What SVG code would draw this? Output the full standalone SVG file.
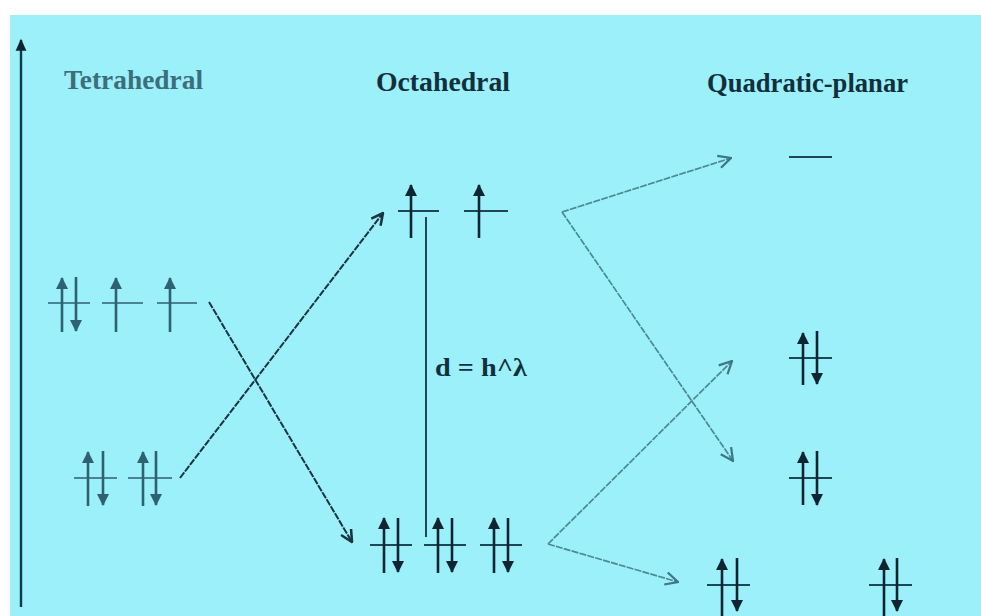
<svg xmlns="http://www.w3.org/2000/svg" width="981" height="616" viewBox="0 0 981 616">
<style>
.ttl{font-family:"Liberation Serif","Times New Roman",serif;font-weight:bold;font-size:27px}
.lvl{stroke:#1e4654;stroke-width:2}
.lvlT{stroke:#4a8494;stroke-width:2}
.e{stroke:#0f2632;stroke-width:2.6;fill:none}
.eT{stroke:#2f6270;stroke-width:2.6;fill:none}
.c1{stroke:#1a3442;stroke-width:2;fill:none;stroke-dasharray:7 1.2}
.c2{stroke:#4d8896;stroke-width:1.7;fill:none;stroke-dasharray:7 1.2}
</style>
<defs>
<marker id="h" viewBox="0 0 12 12" refX="11" refY="6" markerWidth="13" markerHeight="12" orient="auto" markerUnits="userSpaceOnUse">
<path d="M0,0 L12,6 L0,12 Z" fill="#0f2632"/>
</marker>
<marker id="hT" viewBox="0 0 12 12" refX="11" refY="6" markerWidth="13" markerHeight="12" orient="auto" markerUnits="userSpaceOnUse">
<path d="M0,0 L12,6 L0,12 Z" fill="#2f6270"/>
</marker>
<marker id="ax" viewBox="0 0 10 10" refX="9" refY="5" markerWidth="14" markerHeight="12" orient="auto" markerUnits="userSpaceOnUse">
<path d="M0,0.5 L10,5 L0,9.5 Z" fill="#0f2632"/>
</marker>
<marker id="o1" viewBox="0 0 12 12" refX="11" refY="6" markerWidth="14" markerHeight="14" orient="auto" markerUnits="userSpaceOnUse">
<path d="M1,1 L11,6 L1,11" fill="none" stroke="#1a3442" stroke-width="2.2"/>
</marker>
<marker id="o2" viewBox="0 0 12 12" refX="11" refY="6" markerWidth="15" markerHeight="15" orient="auto" markerUnits="userSpaceOnUse">
<path d="M1,1 L11,6 L1,11" fill="none" stroke="#3d7684" stroke-width="1.8"/>
</marker>
</defs>
<rect x="0" y="0" width="981" height="616" fill="#ffffff"/>
<rect x="10" y="15" width="971" height="601" fill="#9cf0fa"/>

<g id="axis">
<line x1="21" y1="607" x2="21" y2="40" stroke="#0f3a44" stroke-width="2.4" marker-end="url(#ax)"/>
</g>

<g id="titles">
<text class="ttl" x="64" y="89" fill="#3c6e7c" textLength="139" lengthAdjust="spacingAndGlyphs">Tetrahedral</text>
<text class="ttl" x="376" y="91" fill="#12303c" textLength="134" lengthAdjust="spacingAndGlyphs">Octahedral</text>
<text class="ttl" x="707" y="92" fill="#12303c" textLength="201" lengthAdjust="spacingAndGlyphs">Quadratic-planar</text>
</g>

<g id="tetra-upper">
<line class="lvlT" x1="48" y1="303" x2="90" y2="303"/>
<line class="lvlT" x1="102" y1="303" x2="143" y2="303"/>
<line class="lvlT" x1="157" y1="303" x2="197" y2="303"/>
<line class="eT" x1="62" y1="332" x2="62" y2="278" marker-end="url(#hT)"/>
<line class="eT" x1="76" y1="277" x2="76" y2="331" marker-end="url(#hT)"/>
<line class="eT" x1="116" y1="332" x2="116" y2="278" marker-end="url(#hT)"/>
<line class="eT" x1="170" y1="332" x2="170" y2="278" marker-end="url(#hT)"/>
</g>

<g id="tetra-lower">
<line class="lvlT" x1="74" y1="478" x2="117" y2="478"/>
<line class="lvlT" x1="128" y1="478" x2="172" y2="478"/>
<line class="eT" x1="88" y1="506" x2="88" y2="452" marker-end="url(#hT)"/>
<line class="eT" x1="103" y1="451" x2="103" y2="505" marker-end="url(#hT)"/>
<line class="eT" x1="143" y1="506" x2="143" y2="452" marker-end="url(#hT)"/>
<line class="eT" x1="156" y1="451" x2="156" y2="505" marker-end="url(#hT)"/>
</g>

<g id="octa-upper">
<line class="lvl" x1="398" y1="211" x2="439" y2="211"/>
<line class="lvl" x1="464" y1="211" x2="508" y2="211"/>
<line class="e" x1="411" y1="238" x2="411" y2="185" marker-end="url(#h)"/>
<line class="e" x1="479" y1="238" x2="479" y2="185" marker-end="url(#h)"/>
</g>

<g id="octa-lower">
<line class="lvl" x1="370" y1="545" x2="412" y2="545"/>
<line class="lvl" x1="424" y1="545" x2="466" y2="545"/>
<line class="lvl" x1="480" y1="545" x2="522" y2="545"/>
<line class="e" x1="384" y1="573" x2="384" y2="518" marker-end="url(#h)"/>
<line class="e" x1="398" y1="518" x2="398" y2="572" marker-end="url(#h)"/>
<line class="e" x1="438" y1="573" x2="438" y2="518" marker-end="url(#h)"/>
<line class="e" x1="452" y1="518" x2="452" y2="572" marker-end="url(#h)"/>
<line class="e" x1="494" y1="573" x2="494" y2="518" marker-end="url(#h)"/>
<line class="e" x1="508" y1="518" x2="508" y2="572" marker-end="url(#h)"/>
</g>

<g id="splitting">
<line x1="426" y1="217" x2="426" y2="537" stroke="#1e4654" stroke-width="2"/>
<text x="435" y="376" font-family="'Liberation Serif','Times New Roman',serif" font-weight="bold" font-size="25" fill="#12303c" textLength="92" lengthAdjust="spacingAndGlyphs">d = h^λ</text>
</g>

<g id="quad-1">
<line class="lvl" x1="789" y1="157" x2="832" y2="157" stroke="#3a6e7c"/>
</g>
<g id="quad-2">
<line class="lvl" x1="789" y1="358" x2="832" y2="358"/>
<line class="e" x1="803" y1="385" x2="803" y2="333" marker-end="url(#h)"/>
<line class="e" x1="817" y1="331" x2="817" y2="384" marker-end="url(#h)"/>
</g>
<g id="quad-3">
<line class="lvl" x1="789" y1="478" x2="832" y2="478"/>
<line class="e" x1="803" y1="505" x2="803" y2="452" marker-end="url(#h)"/>
<line class="e" x1="817" y1="451" x2="817" y2="505" marker-end="url(#h)"/>
</g>
<g id="quad-4">
<line class="lvl" x1="707" y1="585" x2="750" y2="585"/>
<line class="lvl" x1="869" y1="585" x2="912" y2="585"/>
<line class="e" x1="722" y1="616" x2="722" y2="559" marker-end="url(#h)"/>
<line class="e" x1="737" y1="558" x2="737" y2="611" marker-end="url(#h)"/>
<line class="e" x1="884" y1="616" x2="884" y2="559" marker-end="url(#h)"/>
<line class="e" x1="897" y1="558" x2="897" y2="611" marker-end="url(#h)"/>
</g>

<g id="connectors">
<line class="c1" x1="209" y1="302" x2="352" y2="542" marker-end="url(#o1)"/>
<line class="c1" x1="180" y1="478" x2="383" y2="213" marker-end="url(#o1)"/>
<line class="c2" x1="562" y1="212" x2="731" y2="158" marker-end="url(#o2)"/>
<line class="c2" x1="562" y1="212" x2="733" y2="461" marker-end="url(#o2)"/>
<line class="c2" x1="548" y1="544" x2="732" y2="361" marker-end="url(#o2)"/>
<line class="c2" x1="548" y1="544" x2="678" y2="582" marker-end="url(#o2)"/>
</g>
</svg>
